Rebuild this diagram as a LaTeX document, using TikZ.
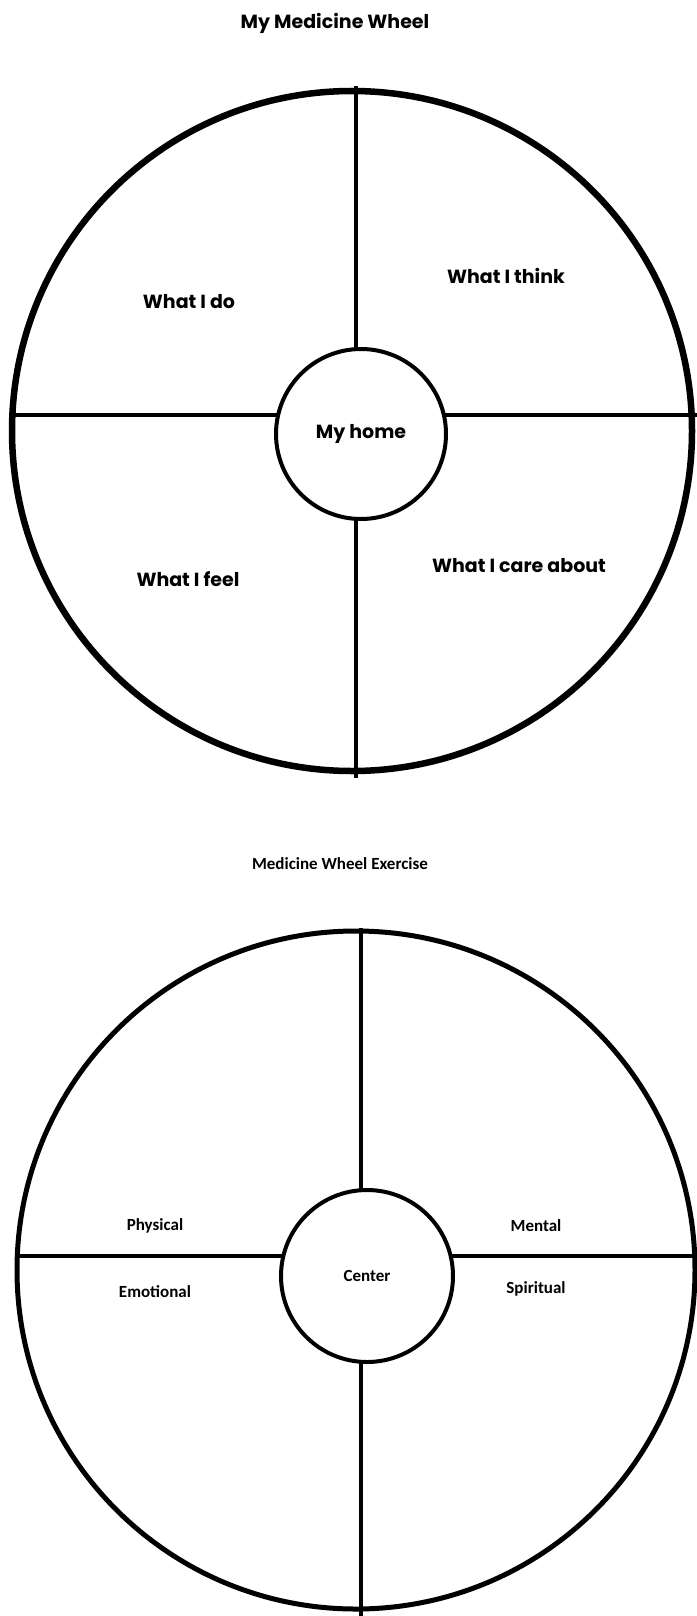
\documentclass[tikz,border=0pt]{standalone}
\usepackage{fontspec}
\setmainfont{Carlito}
\newfontfamily\handfont{Poppins}
\usetikzlibrary{positioning}

\tikzset{
  rim/.style={draw,circle,inner sep=0pt,line width=6.5pt,minimum size=680pt},
  hubring/.style={draw,circle,fill=white,inner sep=0pt,line width=4pt,minimum size=170pt},
  spoke/.style={line width=4pt},
  handtext/.style={font=\handfont\bfseries\fontsize{19}{22}\selectfont},
  printtext/.style={font=\bfseries\fontsize{17}{20}\selectfont}
}

\begin{document}
\begin{tikzpicture}[x=1pt,y=-1pt]
  \useasboundingbox (0,0) rectangle (696,1616);

  % first wheel
  \node[handtext] (title1) at (335,23) {My Medicine Wheel};
  \coordinate (n1) at (356,86);
  \coordinate (s1) at (356,778);
  \coordinate (w1) at (12,415);
  \coordinate (e1) at (700,415);
  \draw[spoke] (n1) -- (s1);
  \draw[spoke] (w1) -- (e1);
  \node[rim] (wheel1) at (352,431) {};
  \node[hubring,handtext] (hub1) at (361,434) {My home};
  \node[handtext] (do) at (189,302) {What I do};
  \node[handtext] (think) at (506,276) {What I think};
  \node[handtext] (feel) at (188,579) {What I feel};
  \node[handtext] (care) at (519,566) {What I care about};

  % second wheel
  \node[printtext] (title2) at (340,864) {Medicine Wheel Exercise};
  \coordinate (n2) at (361,928);
  \coordinate (s2) at (361,1620);
  \coordinate (w2) at (17,1256);
  \coordinate (e2) at (700,1256);
  \draw[spoke] (n2) -- (s2);
  \draw[spoke] (w2) -- (e2);
  \node[rim,line width=5pt,minimum size=678pt] (wheel2) at (356,1270) {};
  \node[hubring,printtext,minimum size=172pt] (hub2) at (367,1276) {Center};
  \node[printtext] (physical) at (155,1226) {Physical};
  \node[printtext] (mental) at (536,1226) {Mental};
  \node[printtext] (emotional) at (155,1292) {Emotional};
  \node[printtext] (spiritual) at (536,1289) {Spiritual};
\end{tikzpicture}
\end{document}
